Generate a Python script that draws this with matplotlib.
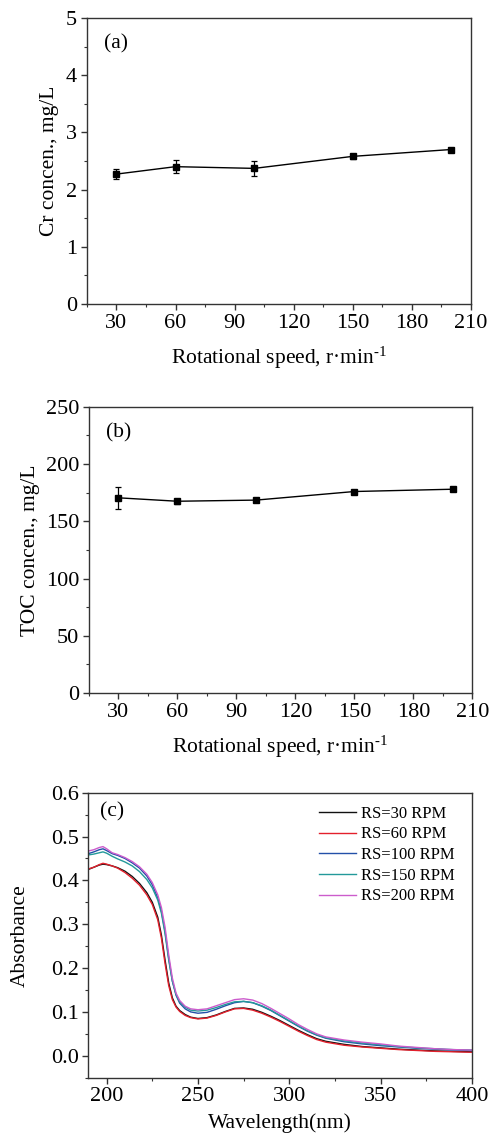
import matplotlib
matplotlib.use("Agg")
import matplotlib.pyplot as plt
from matplotlib.ticker import MultipleLocator, FormatStrFormatter

plt.rcParams['font.family'] = ['Liberation Serif', 'DejaVu Serif']
plt.rcParams['mathtext.fontset'] = 'custom'
plt.rcParams['mathtext.rm'] = 'Liberation Serif'
plt.rcParams['mathtext.it'] = 'Liberation Serif:italic'

# Rotational speed series (r/min)
speed = [30, 60, 100, 150, 200]
cr_conc = [2.27, 2.40, 2.37, 2.58, 2.70]
cr_err = [0.09, 0.11, 0.13, 0.04, 0.03]
toc_conc = [170.5, 167.5, 168.5, 176.0, 178.0]
toc_err = [9.5, 2.0, 1.0, 1.0, 1.0]

# UV-vis spectra
wavelength = [190, 193, 196, 198, 200, 203, 206, 210, 214, 218, 222, 225, 228, 230,
              232, 234, 236, 238, 240, 243, 246, 250, 255, 260, 265, 270, 275, 280,
              285, 290, 295, 300, 305, 310, 315, 320, 330, 340, 350, 360, 370, 380,
              390, 400]
abs_rs30 = [0.425, 0.430, 0.435, 0.437, 0.436, 0.433, 0.429, 0.421, 0.409, 0.393, 0.372,
            0.350, 0.316, 0.275, 0.218, 0.166, 0.132, 0.113, 0.103, 0.094, 0.088, 0.085,
            0.087, 0.093, 0.101, 0.108, 0.109, 0.106, 0.099, 0.090, 0.080, 0.069, 0.058,
            0.048, 0.039, 0.033, 0.026, 0.021, 0.018, 0.015, 0.013, 0.011, 0.010, 0.009]
abs_rs60 = [0.426, 0.430, 0.436, 0.439, 0.437, 0.433, 0.428, 0.418, 0.405, 0.389, 0.367,
            0.345, 0.310, 0.268, 0.210, 0.160, 0.128, 0.111, 0.101, 0.092, 0.087, 0.084,
            0.086, 0.092, 0.100, 0.107, 0.108, 0.104, 0.097, 0.088, 0.078, 0.067, 0.056,
            0.046, 0.037, 0.031, 0.024, 0.020, 0.017, 0.014, 0.012, 0.010, 0.009, 0.008]
abs_rs100 = [0.461, 0.465, 0.470, 0.472, 0.468, 0.461, 0.457, 0.450, 0.440, 0.428, 0.410,
             0.390, 0.360, 0.330, 0.283, 0.222, 0.170, 0.138, 0.120, 0.107, 0.100, 0.097,
             0.099, 0.106, 0.114, 0.121, 0.124, 0.121, 0.113, 0.103, 0.091, 0.079, 0.067,
             0.056, 0.047, 0.040, 0.032, 0.027, 0.023, 0.020, 0.017, 0.015, 0.013, 0.012]
abs_rs150 = [0.458, 0.460, 0.463, 0.465, 0.462, 0.455, 0.449, 0.442, 0.433, 0.420, 0.402,
             0.383, 0.355, 0.325, 0.278, 0.218, 0.170, 0.140, 0.123, 0.111, 0.104, 0.102,
             0.104, 0.110, 0.117, 0.123, 0.124, 0.121, 0.114, 0.104, 0.092, 0.080, 0.068,
             0.057, 0.048, 0.041, 0.034, 0.029, 0.025, 0.021, 0.018, 0.016, 0.014, 0.013]
abs_rs200 = [0.467, 0.470, 0.475, 0.477, 0.472, 0.463, 0.459, 0.452, 0.443, 0.431, 0.414,
             0.395, 0.367, 0.338, 0.293, 0.230, 0.177, 0.143, 0.126, 0.113, 0.107, 0.105,
             0.107, 0.114, 0.121, 0.128, 0.130, 0.127, 0.119, 0.108, 0.096, 0.084, 0.071,
             0.060, 0.050, 0.043, 0.036, 0.031, 0.027, 0.022, 0.019, 0.016, 0.014, 0.013]
spectra_labels = ['RS=30 RPM', 'RS=60 RPM', 'RS=100 RPM', 'RS=150 RPM', 'RS=200 RPM']
spectra_colors = ['#111111', '#E3202C', '#2350A8', '#23999A', '#CC5CCC']

fig = plt.figure(figsize=(4.91, 11.35), dpi=100)
ax_a = fig.add_axes([0.177, 0.7322, 0.782, 0.252])
ax_b = fig.add_axes([0.181, 0.3894, 0.781, 0.2522])
ax_c = fig.add_axes([0.180, 0.0505, 0.781, 0.2511])

tick_fs = 16
label_fs = 15.5
speed_label = r'Rotational speed, r·min$^{\text{-}1}$'


def style_axes(ax):
    for s in ax.spines.values():
        s.set_linewidth(1.0)
        s.set_color('#333333')
    ax.tick_params(which='both', direction='out', top=False, right=False,
                   labelsize=tick_fs, color='#333333', pad=3)
    ax.tick_params(which='major', length=4, width=1.0)
    ax.tick_params(which='minor', length=2.5, width=0.8)


# (a) Cr concentration
ax_a.errorbar(speed, cr_conc, yerr=cr_err, color='black', marker='s', ms=5,
              lw=1.0, elinewidth=0.9, capsize=2.5, capthick=0.9)
ax_a.set_xlim(15, 210)
ax_a.set_ylim(0, 5)
ax_a.xaxis.set_major_locator(MultipleLocator(30))
ax_a.xaxis.set_minor_locator(MultipleLocator(15))
ax_a.yaxis.set_major_locator(MultipleLocator(1))
ax_a.yaxis.set_minor_locator(MultipleLocator(0.5))
ax_a.set_ylabel('Cr concen., mg/L', fontsize=label_fs, labelpad=5)
ax_a.set_xlabel(speed_label, fontsize=label_fs, labelpad=9)
ax_a.text(0.045, 0.91, '(a)', transform=ax_a.transAxes, fontsize=label_fs,
          ha='left', va='center')
style_axes(ax_a)

# (b) TOC concentration
ax_b.errorbar(speed, toc_conc, yerr=toc_err, color='black', marker='s', ms=5,
              lw=1.0, elinewidth=0.9, capsize=2.5, capthick=0.9)
ax_b.set_xlim(15, 210)
ax_b.set_ylim(0, 250)
ax_b.xaxis.set_major_locator(MultipleLocator(30))
ax_b.xaxis.set_minor_locator(MultipleLocator(15))
ax_b.yaxis.set_major_locator(MultipleLocator(50))
ax_b.yaxis.set_minor_locator(MultipleLocator(25))
ax_b.set_ylabel('TOC concen., mg/L', fontsize=label_fs, labelpad=4)
ax_b.set_xlabel(speed_label, fontsize=label_fs, labelpad=9)
ax_b.text(0.045, 0.91, '(b)', transform=ax_b.transAxes, fontsize=label_fs,
          ha='left', va='center')
style_axes(ax_b)

# (c) UV-vis absorbance spectra
for ys, lab, col in zip([abs_rs30, abs_rs60, abs_rs100, abs_rs150, abs_rs200],
                        spectra_labels, spectra_colors):
    ax_c.plot(wavelength, ys, color=col, lw=1.0, label=lab)
ax_c.set_xlim(190, 400)
ax_c.set_ylim(-0.05, 0.6)
ax_c.xaxis.set_major_locator(MultipleLocator(50))
ax_c.xaxis.set_minor_locator(MultipleLocator(25))
ax_c.yaxis.set_major_locator(MultipleLocator(0.1))
ax_c.yaxis.set_minor_locator(MultipleLocator(0.05))
ax_c.yaxis.set_major_formatter(FormatStrFormatter('%.1f'))
ax_c.set_ylabel('Absorbance', fontsize=label_fs, labelpad=15)
ax_c.set_xlabel('Wavelength(nm)', fontsize=label_fs, labelpad=5)
ax_c.text(0.03, 0.933, '(c)', transform=ax_c.transAxes, fontsize=label_fs,
          ha='left', va='center')
ax_c.legend(loc='upper right', frameon=False, fontsize=12, handlelength=2.2,
            handletextpad=0.3, labelspacing=0.28, borderaxespad=0.3,
            bbox_to_anchor=(0.985, 0.995))
style_axes(ax_c)

fig.savefig('out.png', dpi=100)
